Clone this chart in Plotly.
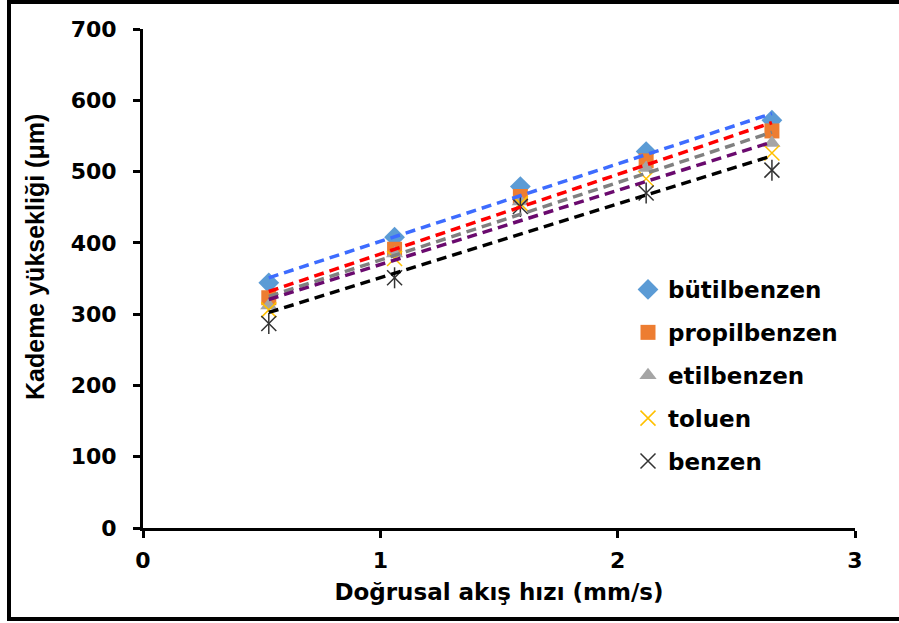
import numpy as np
import plotly.graph_objects as go

x = [0.53, 1.06, 1.59, 2.12, 2.65]
butilbenzen = [344, 408, 479, 528, 572]
propilbenzen = [323, 391, 465, 515, 557]
etilbenzen = [312, 385, 458, 505, 540]
toluen = [306, 378, 455, 490, 526]
benzen = [287, 351, 451, 470, 502]

names = ["bütilbenzen", "propilbenzen", "etilbenzen", "toluen", "benzen"]
series = [butilbenzen, propilbenzen, etilbenzen, toluen, benzen]
marker_styles = [
    dict(symbol="diamond", size=16, color="#5b9bd5"),
    dict(symbol="square", size=15, color="#ed7d31"),
    dict(symbol="triangle-up", size=15, color="#a5a5a5"),
    dict(symbol="x-thin-open", size=15, color="#ffc000", line=dict(width=1.5, color="#ffc000")),
    dict(symbol="x-thin-open", size=15, color="#333333", line=dict(width=1.5, color="#333333")),
]
trend_colors = ["#3d6cff", "#ff0000", "#808080", "#6a0a6e", "#000000"]

W, H = 899, 623
ml, mr, mt, mb = 143, 44, 29, 95
pw, ph = W - ml - mr, H - mt - mb

fig = go.Figure()
for i, (n, s, m) in enumerate(zip(names, series, marker_styles)):
    fig.add_trace(go.Scatter(x=x, y=s, mode="markers", name=n, marker=m,
                             legendgroup=n, cliponaxis=False))
    if n == "benzen":
        fig.add_trace(go.Scatter(x=x, y=s, mode="markers", showlegend=False,
                                 marker=dict(symbol="line-ns-open", size=15, color="#333333",
                                             line=dict(width=1.5, color="#333333")),
                                 legendgroup=n, hoverinfo="skip"))

xa = np.array(x)
for s, c in zip(series, trend_colors):
    k, b = np.polyfit(xa, np.array(s, dtype=float), 1)
    xs = [xa[0], xa[-1]]
    fig.add_trace(go.Scatter(x=xs, y=[k * v + b for v in xs], mode="lines",
                             showlegend=False, hoverinfo="skip",
                             line=dict(color=c, width=3.5, dash="10px,6px")))

tickfont = dict(family="DejaVu Sans", size=22, color="black", weight="bold")
xtitlefont = dict(family="DejaVu Sans", size=23, color="black", weight="bold")
ytitlefont = dict(family="Liberation Sans", size=25, color="black", weight="bold")

def px2paper_x(p):
    return (p - ml) / pw

def px2paper_y(p):
    return (H - mb - p) / ph

fig.add_shape(type="rect", xref="paper", yref="paper",
              x0=px2paper_x(9), x1=px2paper_x(910), y0=px2paper_y(619), y1=px2paper_y(2),
              line=dict(color="black", width=4), fillcolor="rgba(0,0,0,0)", layer="above")

fig.add_annotation(text="Kademe yüksekliği (μm)", xref="paper", yref="paper",
                   x=px2paper_x(35), y=px2paper_y(257), xanchor="center", yanchor="middle",
                   textangle=-90, showarrow=False, font=ytitlefont)

fig.update_layout(
    width=W, height=H,
    margin=dict(l=ml, r=mr, t=mt, b=mb),
    plot_bgcolor="white", paper_bgcolor="white",
    xaxis=dict(range=[0, 3], tickvals=[0, 1, 2, 3], showgrid=False, zeroline=False,
               showline=True, linecolor="black", linewidth=3,
               ticks="outside", ticklen=7, tickwidth=3, tickcolor="black",
               tickfont=tickfont, ticklabelstandoff=4,
               title=dict(text="Doğrusal akış hızı (mm/s)", font=xtitlefont, standoff=12)),
    yaxis=dict(range=[0, 700], tickvals=[0, 100, 200, 300, 400, 500, 600, 700],
               showgrid=False, zeroline=False,
               showline=True, linecolor="black", linewidth=3,
               ticks="outside", ticklen=7, tickwidth=3, tickcolor="black",
               tickfont=tickfont, ticklabelstandoff=12),
    legend=dict(x=px2paper_x(628), y=px2paper_y(268), xanchor="left", yanchor="top",
                font=dict(family="DejaVu Sans", size=23, color="black", weight="bold"),
                bgcolor="rgba(0,0,0,0)", tracegroupgap=10, itemwidth=30,
                traceorder="grouped"),
    showlegend=True,
)

fig.write_html("out.html")
